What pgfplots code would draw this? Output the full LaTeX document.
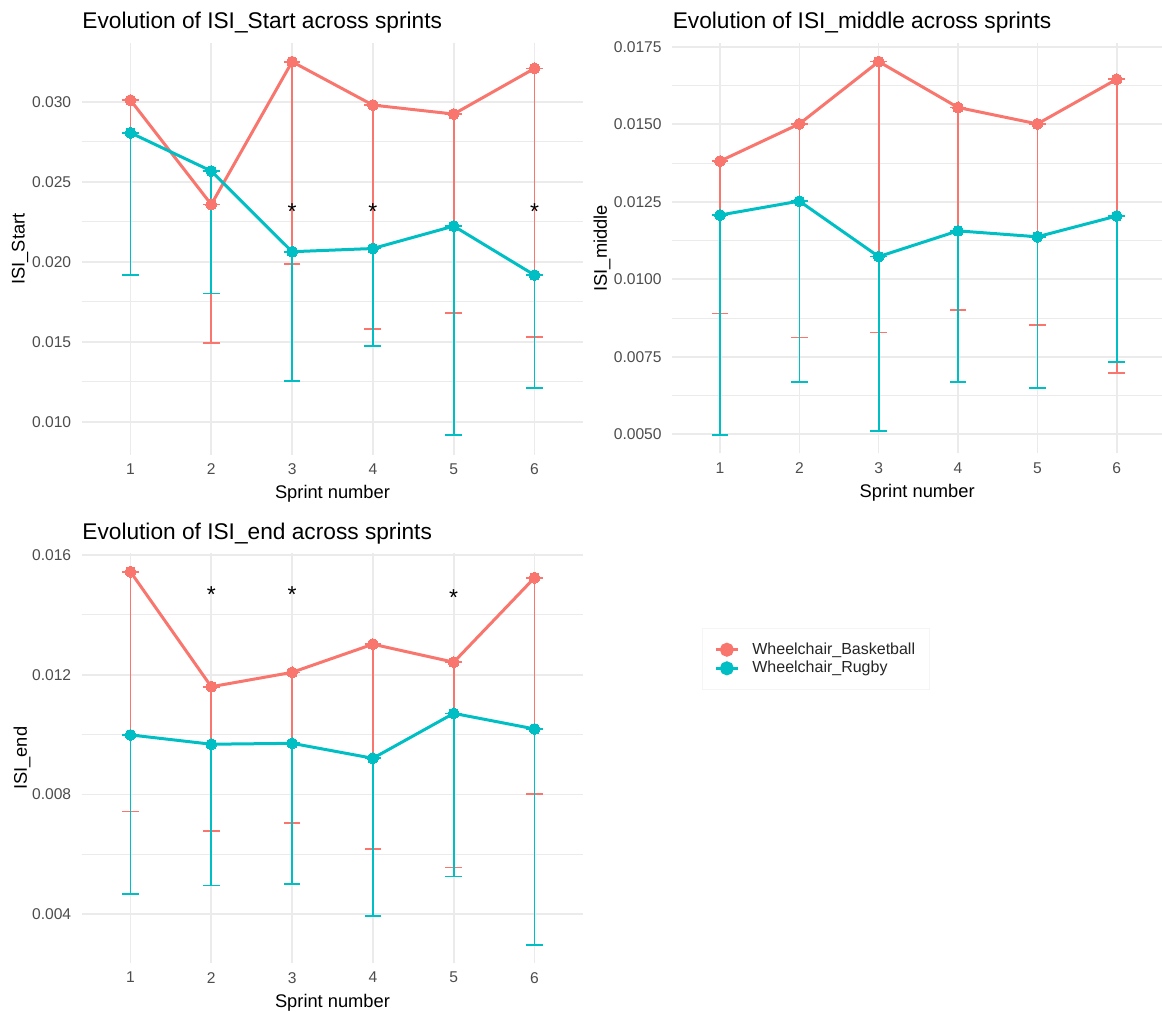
\documentclass[border=0pt]{standalone}
\usepackage{fontspec}
\setmainfont{Liberation Sans}
\usepackage{pgfplots}
\usepackage{pgfplotstable}
\pgfplotsset{compat=1.18}
\definecolor{ggred}{HTML}{F8766D}
\definecolor{ggteal}{HTML}{00BFC4}
\definecolor{gridc}{HTML}{EBEBEB}
\definecolor{tickc}{HTML}{4D4D4D}

% x mean lower
\pgfplotstableread{
x y lo
1 0.03010 0.01917
2 0.02358 0.01494
3 0.03250 0.01985
4 0.02979 0.01579
5 0.02923 0.01681
6 0.03208 0.01531
}\startB
\pgfplotstableread{
x y lo
1 0.02806 0.01917
2 0.02567 0.01802
3 0.02063 0.01254
4 0.02083 0.01475
5 0.02223 0.00917
6 0.01917 0.01212
}\startR
\pgfplotstableread{
x y lo
1 0.01381 0.00890
2 0.01501 0.00812
3 0.01702 0.00828
4 0.01554 0.00901
5 0.01501 0.00853
6 0.01645 0.00697
}\midB
\pgfplotstableread{
x y lo
1 0.01207 0.00498
2 0.01252 0.00668
3 0.01073 0.00511
4 0.01156 0.00668
5 0.01137 0.00650
6 0.01204 0.00734
}\midR
\pgfplotstableread{
x y lo
1 0.01544 0.00743
2 0.01160 0.00679
3 0.01208 0.00706
4 0.01302 0.00618
5 0.01242 0.00556
6 0.01524 0.00802
}\endB
\pgfplotstableread{
x y lo
1 0.00999 0.00467
2 0.00968 0.00496
3 0.00971 0.00501
4 0.00921 0.00394
5 0.01071 0.00526
6 0.01019 0.00298
}\endR

\pgfplotsset{
  ggbase/.style={
    scale only axis,
    anchor=south west,
    axis line style={draw=none},
    tick style={draw=none},
    major tick length=0pt,
    minor tick length=0pt,
    xtick={1,2,3,4,5,6},
    xmajorgrids, ymajorgrids, yminorgrids,
    minor y tick num=1,
    major grid style={draw=gridc, line width=0.8pt},
    minor grid style={draw=gridc, line width=0.45pt},
    ticklabel style={font=\fontsize{7.8}{9}\selectfont, text=tickc},
    xticklabel style={yshift=-0.9pt},
    yticklabel style={xshift=-1.9pt},
    scaled y ticks=false,
    /pgf/number format/assume math mode=true,
    yticklabel style={/pgf/number format/.cd, fixed, fixed zerofill, precision=3},
    label style={font=\fontsize{9.15}{11}\selectfont},
    xlabel={Sprint number},
    xlabel style={at={(axis description cs:0.5,0)}, anchor=center, yshift=-19.5pt},
    every axis title shift=0pt,
    title style={at={(axis description cs:0,1)}, anchor=base west, inner xsep=0pt, yshift=7pt, font=\fontsize{11.35}{13}\selectfont},
    clip=true,
  },
  ebB/.style={draw=none, mark=none, forget plot,
    error bars/.cd, y dir=both, y explicit,
    error bar style={draw=ggred, line width=0.85pt},
    error mark options={rotate=90, draw=ggred, line width=0.85pt, mark size=4.2pt}},
  ebR/.style={draw=none, mark=none, forget plot,
    error bars/.cd, y dir=both, y explicit,
    error bar style={draw=ggteal, line width=0.85pt},
    error mark options={rotate=90, draw=ggteal, line width=0.85pt, mark size=4.2pt}},
  lnB/.style={ggred, line width=1.5pt, mark=*, mark size=2.75pt, mark options={solid, fill=ggred, draw=ggred, line width=0pt}, forget plot},
  lnR/.style={ggteal, line width=1.5pt, mark=*, mark size=2.75pt, mark options={solid, fill=ggteal, draw=ggteal, line width=0pt}, forget plot},
  star/.style={draw=none, mark=none, forget plot, nodes near coords={*}, point meta=y,
    every node near coord/.style={anchor=base, yshift=-0.57em, font=\fontsize{11.5}{12}\selectfont, text=black, inner sep=0pt}},
}

\begin{document}
\begin{tikzpicture}
\useasboundingbox (0,0) rectangle (581pt,506pt);

% Panel 1
\begin{axis}[ggbase, at={(41pt,278.5pt)}, width=250.5pt, height=206pt,
  xmin=0.4, xmax=6.6, ymin=0.00793, ymax=0.03367,
  ytick={0.010,0.015,0.020,0.025,0.030},
  title={Evolution of ISI\_Start across sprints}, ylabel={ISI\_Start},
  ylabel style={at={(axis description cs:-0.1238,0.5)}, anchor=center}]
\addplot[ebB] table[x=x, y=y, y error plus expr=0, y error minus expr=\thisrow{y}-\thisrow{lo}] {\startB};
\addplot[ebR] table[x=x, y=y, y error plus expr=0, y error minus expr=\thisrow{y}-\thisrow{lo}] {\startR};
\addplot[lnB] table[x=x, y=y] {\startB};
\addplot[lnR] table[x=x, y=y] {\startR};
\addplot[star] coordinates {(3,0.02333) (4,0.02333) (6,0.02333)};
\end{axis}

% Panel 2
\begin{axis}[ggbase, at={(336.2pt,279.25pt)}, width=244.8pt, height=205.25pt,
  xmin=0.4, xmax=6.571, ymin=0.00438, ymax=0.01762,
  ytick={0.0050,0.0075,0.0100,0.0125,0.0150,0.0175},
  yticklabel style={/pgf/number format/.cd, fixed, fixed zerofill, precision=4},
  title={Evolution of ISI\_middle across sprints}, ylabel={ISI\_middle},
  ylabel style={at={(axis description cs:-0.1438,0.5)}, anchor=center}]
\addplot[ebB] table[x=x, y=y, y error plus expr=0, y error minus expr=\thisrow{y}-\thisrow{lo}] {\midB};
\addplot[ebR] table[x=x, y=y, y error plus expr=0, y error minus expr=\thisrow{y}-\thisrow{lo}] {\midR};
\addplot[lnB] table[x=x, y=y] {\midB};
\addplot[lnR] table[x=x, y=y] {\midR};
\end{axis}

% Panel 3
\begin{axis}[ggbase, at={(41pt,24.3pt)}, width=250.5pt, height=205.1pt,
  xmin=0.4, xmax=6.6, ymin=0.00236, ymax=0.01606,
  ytick={0.004,0.008,0.012,0.016},
  title={Evolution of ISI\_end across sprints}, ylabel={ISI\_end},
  ylabel style={at={(axis description cs:-0.1198,0.5)}, anchor=center},
  legend style={at={(axis description cs:1.2375,0.742)}, anchor=west,
    draw=gray!8, fill=white, font=\fontsize{8}{9}\selectfont, text=black!85,
    inner xsep=6pt, inner ysep=6pt, row sep=0pt,
    nodes={inner sep=1pt},
    /tikz/every odd column/.style={column sep=5.5pt}},
  legend cell align=left,
  legend image code/.code={\draw[#1, mark=none] (0pt,0pt) -- (11pt,0pt); \fill[#1, mark=none] (5.5pt,0pt) circle (2.75pt);}]
\addplot[ebB] table[x=x, y=y, y error plus expr=0, y error minus expr=\thisrow{y}-\thisrow{lo}] {\endB};
\addplot[ebR] table[x=x, y=y, y error plus expr=0, y error minus expr=\thisrow{y}-\thisrow{lo}] {\endR};
\addplot[lnB] table[x=x, y=y] {\endB};
\addplot[lnR] table[x=x, y=y] {\endR};
\addplot[star] coordinates {(2,0.01478) (3,0.01478) (5,0.01469)};
\addlegendimage{ggred, line width=1.5pt}
\addlegendentry{Wheelchair\_Basketball}
\addlegendimage{ggteal, line width=1.5pt}
\addlegendentry{Wheelchair\_Rugby}
\end{axis}
\end{tikzpicture}
\end{document}
